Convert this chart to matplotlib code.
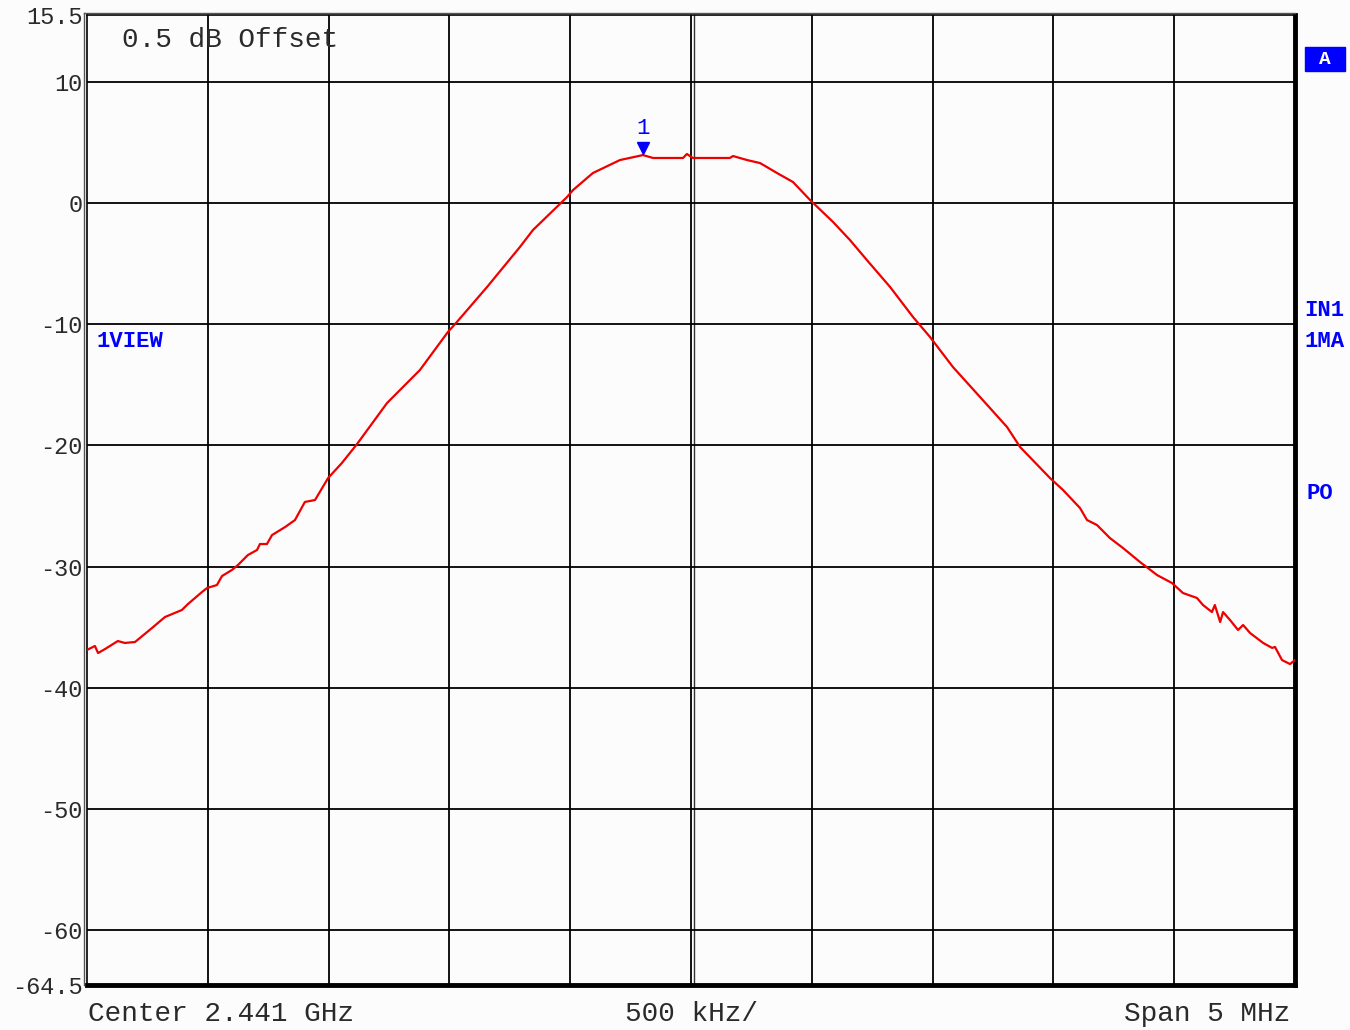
import matplotlib
matplotlib.use("Agg")
import matplotlib.pyplot as plt
from matplotlib.patches import Rectangle

# Trace: frequency offset from center (MHz) and level (dB)
freq_offset_mhz = [
    -2.500, -2.467, -2.454, -2.425, -2.372, -2.343, -2.301, -2.231, -2.177, -2.107,
    -2.082, -2.024, -2.003, -1.962, -1.941, -1.900, -1.875, -1.834, -1.796, -1.784,
    -1.755, -1.734, -1.680, -1.639, -1.598, -1.556, -1.502, -1.445, -1.382, -1.258,
    -1.122, -1.006, -0.969, -0.844, -0.708, -0.654, -0.513, -0.488, -0.406, -0.294,
    -0.199, -0.157, -0.033, -0.017, 0.008, 0.161, 0.174, 0.232, 0.286, 0.356,
    0.422, 0.493, 0.588, 0.658, 0.728, 0.824, 0.919, 0.989, 1.084, 1.196,
    1.308, 1.362, 1.486, 1.540, 1.610, 1.639, 1.680, 1.734, 1.788, 1.858,
    1.929, 1.991, 2.036, 2.094, 2.119, 2.156, 2.168, 2.190, 2.202, 2.231,
    2.264, 2.285, 2.314, 2.368, 2.405, 2.417, 2.446, 2.479, 2.500,
]
level_db = [
    -36.87, -36.54, -37.12, -36.79, -36.13, -36.29, -36.21, -35.06, -34.15, -33.57,
    -33.08, -32.09, -31.76, -31.51, -30.77, -30.27, -29.86, -29.04, -28.62, -28.13,
    -28.13, -27.39, -26.73, -26.15, -24.66, -24.50, -22.69, -21.45, -19.88, -16.50,
    -13.78, -10.64, -9.82, -6.93, -3.63, -2.23, 0.49, 1.07, 2.47, 3.54,
    3.95, 3.71, 3.71, 4.04, 3.71, 3.71, 3.87, 3.54, 3.29, 2.47,
    1.73, 0.24, -1.57, -3.06, -4.71, -6.93, -9.41, -11.05, -13.53, -16.00,
    -18.48, -20.13, -22.69, -23.68, -25.16, -26.15, -26.56, -27.64, -28.46, -29.61,
    -30.69, -31.35, -32.17, -32.58, -33.16, -33.74, -33.16, -34.56, -33.74, -34.40,
    -35.22, -34.81, -35.47, -36.29, -36.70, -36.62, -37.70, -38.03, -37.70,
]

marker_freq = -0.199
marker_level = 3.95

y_ticks = [15.5, 10, 0, -10, -20, -30, -40, -50, -60, -64.5]
y_labels = ["15.5", "10", "0", "-10", "-20", "-30", "-40", "-50", "-60", "-64.5"]

mono = "Liberation Mono"
blue = "#0000ff"
ink = "#2a2a2a"

fig = plt.figure(figsize=(13.5, 10.3), dpi=100)
fig.patch.set_facecolor("#fcfcfc")
ax = fig.add_axes([0.0644, 0.0437, 0.8949, 0.9417])
ax.set_facecolor("#fcfcfc")

ax.set_xlim(-2.5, 2.5)
ax.set_ylim(-64.5, 15.5)

# 10 x 8 graticule
for k in range(1, 10):
    ax.axvline(-2.5 + 0.5 * k, color="black", lw=1.3, zorder=1)
ax.axvline(0.014, color="#333333", lw=1.0, zorder=1)  # doubled center line
for v in range(-60, 15, 10):
    ax.axhline(v, color="black", lw=1.3, zorder=1)

ax.plot(freq_offset_mhz, level_db, color="#ee0000", lw=1.6, zorder=3)

# marker 1
ax.plot(marker_freq, marker_level + 0.6, marker="v", color=blue, ms=9, zorder=4)
ax.text(marker_freq, marker_level + 1.3, "1", color=blue, fontsize=16,
        family=mono, ha="center", va="bottom")

ax.set_xticks([])
ax.set_yticks(y_ticks)
ax.set_yticklabels(y_labels, family=mono, fontsize=17, color=ink)
ax.tick_params(axis="y", length=0, pad=3)

for side in ["left", "top"]:
    ax.spines[side].set_linewidth(1.2)
for side in ["right", "bottom"]:
    ax.spines[side].set_linewidth(3.5)
# thin outer line of the double frame
fig.add_artist(plt.Line2D([0.0622, 0.0622], [0.0437, 0.9874], color="#555555", lw=1.0))
fig.add_artist(plt.Line2D([0.0622, 0.9593], [0.9874, 0.9874], color="#555555", lw=1.0))

# annotations in the plot area
ax.text(0.029, 0.988, "0.5 dB Offset", transform=ax.transAxes, family=mono,
        fontsize=20, va="top", ha="left", color=ink)
ax.text(0.008, 0.663, "1VIEW", transform=ax.transAxes, family=mono,
        fontsize=16, fontweight="bold", color=blue, va="center", ha="left")

# side labels
fig.add_artist(Rectangle((0.9667, 0.931), 0.0296, 0.0235, transform=fig.transFigure,
                         fc=blue, ec=blue))
fig.text(0.9815, 0.9425, "A", family=mono, fontsize=14, fontweight="bold",
         color="white", ha="center", va="center")
fig.text(0.966, 0.699, "IN1", family=mono, fontsize=16, fontweight="bold",
         color=blue, ha="left", va="center")
fig.text(0.966, 0.668, "1MA", family=mono, fontsize=16, fontweight="bold",
         color=blue, ha="left", va="center")
fig.text(0.968, 0.521, "PO", family=mono, fontsize=16, fontweight="bold",
         color=blue, ha="left", va="center")

# bottom labels
fig.text(0.065, 0.016, "Center 2.441 GHz", family=mono, fontsize=20,
         ha="left", va="center", color=ink)
fig.text(0.463, 0.016, "500 kHz/", family=mono, fontsize=20,
         ha="left", va="center", color=ink)
fig.text(0.956, 0.016, "Span 5 MHz", family=mono, fontsize=20,
         ha="right", va="center", color=ink)

fig.savefig("out.png", dpi=100, facecolor=fig.get_facecolor())
